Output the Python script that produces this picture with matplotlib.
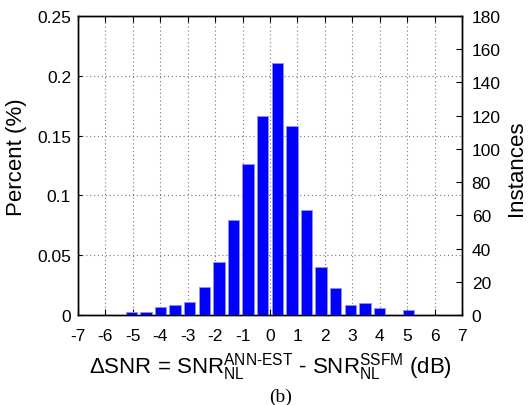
import matplotlib
matplotlib.use("Agg")
import matplotlib.pyplot as plt

plt.rcParams['font.family'] = ['Liberation Sans', 'DejaVu Sans']
plt.rcParams['mathtext.fontset'] = 'custom'
plt.rcParams['mathtext.rm'] = 'Liberation Sans'
plt.rcParams['mathtext.it'] = 'Liberation Sans'
plt.rcParams['mathtext.bf'] = 'Liberation Sans:bold'

bin_centers = [-5.05, -4.52, -3.99, -3.46, -2.93, -2.39, -1.86, -1.33, -0.80, -0.27,
               0.27, 0.80, 1.33, 1.86, 2.39, 2.93, 3.46, 3.99, 4.52, 5.05]
counts = [2, 2, 5, 6, 8, 17, 32, 57, 91, 120, 152, 114, 63, 29, 16, 6, 7, 4, 0, 3]
bin_width = 0.532
x_ticks = list(range(-7, 8))
pct_ticks = [0, 0.05, 0.1, 0.15, 0.2, 0.25]
pct_labels = ['0', '0.05', '0.1', '0.15', '0.2', '0.25']
inst_ticks = list(range(0, 181, 20))

W, H = 528, 406
fig = plt.figure(figsize=(W/100, H/100), dpi=100)
ax = fig.add_axes([78/W, 1-316/H, (462-78)/W, (316-17)/H])
ax2 = ax.twinx()

ax2.bar(bin_centers, counts, width=bin_width*0.8, color='#0000ff',
        edgecolor='#9090ff', linewidth=0.6, zorder=3)

ax.set_xlim(-7, 7)
ax.set_ylim(0, 0.25)
ax2.set_ylim(0, 180)
ax.set_xticks(x_ticks)
ax.set_xticklabels([str(v) for v in x_ticks])
ax.set_yticks(pct_ticks)
ax.set_yticklabels(pct_labels)
ax2.set_yticks(inst_ticks)

ax.grid(True, linestyle=(0, (1, 2.5)), color='#777777', linewidth=0.8)
ax.set_axisbelow(True)

fs = 12.5
ax.tick_params(axis='x', direction='in', top=True, labelsize=fs, pad=9.5, length=4)
ax.tick_params(axis='y', direction='in', labelsize=fs, pad=5, length=3)
ax2.tick_params(axis='y', direction='in', labelsize=fs, pad=7, length=4)

for a in (ax, ax2):
    for s in a.spines.values():
        s.set_linewidth(1.0)
        s.set_color('black')

fig.text(17/W, 1-157/H, 'Percent (%)', fontsize=16, rotation=90,
         ha='center', va='center')
fig.text(516/W, 1-168/H, 'Instances', fontsize=16, rotation=90,
         ha='center', va='center')
ax.set_xlabel(r'$\Delta$SNR = SNR$_{\mathrm{NL}}^{\text{ANN-EST}}$ - SNR$_{\mathrm{NL}}^{\mathrm{SSFM}}$ (dB)',
              fontsize=16, labelpad=5)

fig.text(281/W, 1-397/H, '(b)', family='Liberation Serif', fontsize=14,
         ha='center', va='center')

fig.savefig('out.png', dpi=100)
